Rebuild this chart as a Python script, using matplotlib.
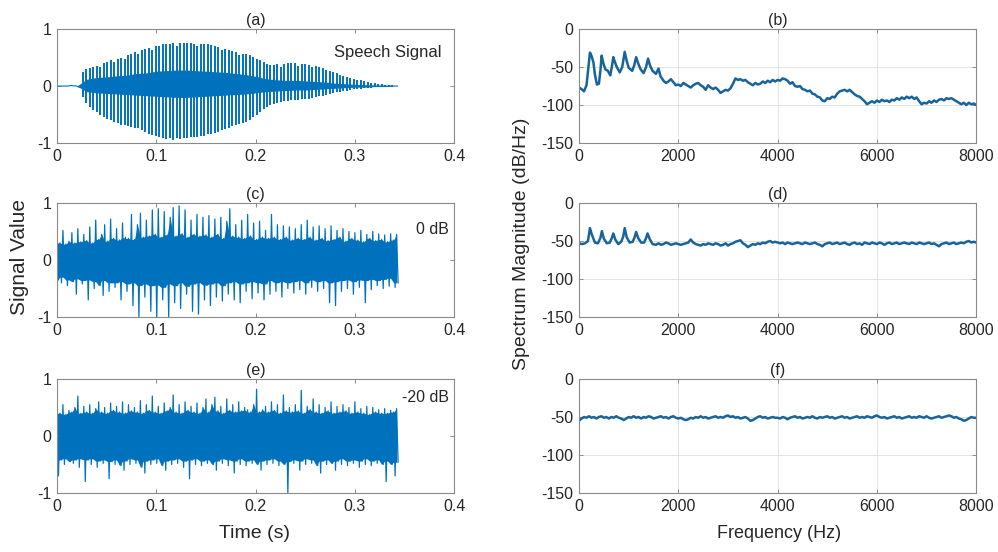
#!/usr/bin/env python3
"""Speech signal, noisy versions (0 dB / -20 dB) and their spectra, 3x2 panels."""
import numpy as np
import matplotlib
matplotlib.use("Agg")
import matplotlib.pyplot as plt

plt.rcParams["font.family"] = ["Liberation Sans", "DejaVu Sans"]
plt.rcParams["axes.unicode_minus"] = False

WAVE = "#0072BD"
SPEC = "#17649c"
INK = "#262626"
BOX = "#8a8a8a"

# ---- (a) clean speech: one stroke per pitch period (peak up / peak down)
A_START, A_STEP = 0.026, 0.0035
A_UP = [0.25, 0.30, 0.31, 0.33, 0.36, 0.34, 0.41, 0.43, 0.45, 0.42,
        0.48, 0.50, 0.47, 0.55, 0.57, 0.59, 0.57, 0.63, 0.65, 0.67,
        0.64, 0.70, 0.71, 0.73, 0.74, 0.74, 0.75, 0.71, 0.75, 0.76,
        0.75, 0.75, 0.74, 0.70, 0.74, 0.74, 0.73, 0.72, 0.70, 0.68,
        0.63, 0.65, 0.63, 0.62, 0.60, 0.55, 0.57, 0.56, 0.54, 0.51,
        0.48, 0.45, 0.42, 0.39, 0.37, 0.37, 0.38, 0.34, 0.39, 0.40,
        0.40, 0.40, 0.36, 0.39, 0.38, 0.37, 0.33, 0.35, 0.33, 0.31,
        0.28, 0.26, 0.24, 0.22, 0.20, 0.18, 0.16, 0.14, 0.13, 0.11,
        0.10, 0.08, 0.07, 0.06, 0.05, 0.04, 0.03, 0.02, 0.02, 0.01]
A_DN = [-0.20, -0.30, -0.36, -0.42, -0.46, -0.50, -0.55, -0.58, -0.60, -0.63,
        -0.65, -0.68, -0.69, -0.71, -0.72, -0.73, -0.74, -0.77, -0.81, -0.84,
        -0.86, -0.88, -0.90, -0.92, -0.93, -0.92, -0.94, -0.92, -0.93, -0.92,
        -0.91, -0.90, -0.90, -0.89, -0.88, -0.87, -0.85, -0.84, -0.82, -0.80,
        -0.78, -0.75, -0.73, -0.71, -0.69, -0.67, -0.65, -0.63, -0.60, -0.55,
        -0.50, -0.45, -0.41, -0.37, -0.33, -0.31, -0.29, -0.28, -0.27, -0.26,
        -0.25, -0.24, -0.24, -0.23, -0.23, -0.22, -0.21, -0.20, -0.18, -0.17,
        -0.15, -0.14, -0.12, -0.11, -0.10, -0.09, -0.08, -0.07, -0.06, -0.05,
        -0.05, -0.04, -0.03, -0.03, -0.02, -0.02, -0.02, -0.01, -0.01, -0.01]
# dense core of the voiced part, every 10 ms from 0.02 s
CORE_T = [0.02, 0.03, 0.04, 0.05, 0.06, 0.07, 0.08, 0.09, 0.10, 0.11, 0.12,
          0.13, 0.14, 0.15, 0.16, 0.17, 0.18, 0.19, 0.20, 0.21, 0.22, 0.23,
          0.24, 0.25, 0.26, 0.27, 0.28, 0.29, 0.30, 0.31, 0.32, 0.33, 0.34]
CORE_UP = [0.0, 0.12, 0.15, 0.16, 0.18, 0.19, 0.22, 0.23, 0.26, 0.27, 0.28,
           0.28, 0.27, 0.26, 0.25, 0.24, 0.22, 0.20, 0.17, 0.13, 0.11, 0.10,
           0.10, 0.09, 0.08, 0.07, 0.05, 0.04, 0.03, 0.02, 0.01, 0.01, 0.0]
CORE_DN = [0.0, -0.10, -0.12, -0.13, -0.14, -0.15, -0.16, -0.17, -0.18, -0.19, -0.20,
           -0.20, -0.19, -0.18, -0.17, -0.16, -0.15, -0.14, -0.12, -0.10, -0.09, -0.08,
           -0.07, -0.07, -0.06, -0.05, -0.04, -0.03, -0.02, -0.02, -0.01, -0.01, 0.0]
SIL_T = [0.0, 0.012, 0.013, 0.020, 0.022, 0.026, 0.338, 0.343]
SIL_V = [0.0, 0.0, 0.01, 0.0, -0.02, 0.0, 0.0, 0.0]

# ---- noisy signals: positive / negative excursions every 3 ms
N_STEP = 0.003
C_UP = [0.38, 0.30, 0.52, 0.28, 0.33, 0.48, 0.30, 0.55, 0.32, 0.45,
        0.34, 0.58, 0.30, 0.70, 0.36, 0.45, 0.62, 0.33, 0.72, 0.38,
        0.55, 0.35, 0.65, 0.40, 0.38, 0.80, 0.36, 0.62, 0.82, 0.40,
        0.70, 0.42, 0.88, 0.45, 0.90, 0.40, 0.85, 0.44, 0.75, 0.92,
        0.42, 0.95, 0.46, 0.88, 0.40, 0.70, 0.45, 0.80, 0.42, 0.75,
        0.44, 0.78, 0.40, 0.72, 0.45, 0.75, 0.38, 0.68, 0.90, 0.42,
        0.62, 0.40, 0.70, 0.38, 0.80, 0.42, 0.65, 0.36, 0.68, 0.40,
        0.52, 0.38, 0.80, 0.40, 0.62, 0.36, 0.60, 0.40, 0.58, 0.35,
        0.55, 0.38, 0.62, 0.36, 0.70, 0.40, 0.58, 0.35, 0.60, 0.38,
        0.55, 0.34, 0.60, 0.36, 0.52, 0.40, 0.55, 0.33, 0.50, 0.38,
        0.48, 0.35, 0.52, 0.32, 0.45, 0.38, 0.50, 0.34, 0.46, 0.36,
        0.44, 0.32, 0.46, 0.35, 0.45]
C_DN = [-0.35, -0.40, -0.30, -0.45, -0.35, -0.38, -0.60, -0.33, -0.42, -0.36,
        -0.70, -0.35, -0.50, -0.38, -0.45, -0.62, -0.36, -0.55, -0.40, -0.48,
        -0.40, -0.70, -0.38, -0.55, -0.42, -0.80, -0.40, -1.00, -0.45, -0.65,
        -0.42, -0.90, -0.45, -1.00, -0.44, -0.70, -0.48, -1.00, -0.42, -0.75,
        -0.45, -0.85, -0.40, -0.60, -0.46, -0.90, -0.42, -0.95, -0.40, -0.70,
        -0.44, -0.80, -0.42, -0.65, -0.40, -0.72, -0.45, -0.60, -0.40, -0.70,
        -0.38, -0.75, -0.42, -0.55, -0.40, -0.68, -0.38, -0.58, -0.40, -0.70,
        -0.42, -0.60, -0.36, -0.55, -0.40, -0.65, -0.38, -0.50, -0.40, -0.58,
        -0.38, -0.52, -0.36, -0.60, -0.40, -0.48, -0.35, -0.55, -0.38, -0.50,
        -0.36, -0.75, -0.40, -0.80, -0.38, -0.55, -0.36, -0.50, -0.35, -0.60,
        -0.38, -0.48, -0.35, -0.75, -0.36, -0.52, -0.34, -0.45, -0.36, -0.50,
        -0.34, -0.46, -0.32, -0.48, -0.40]
E_UP = [0.48, 0.40, 0.55, 0.38, 0.45, 0.42, 0.50, 0.70, 0.40, 0.52,
        0.42, 0.55, 0.40, 0.48, 0.60, 0.42, 0.50, 0.40, 0.58, 0.45,
        0.52, 0.42, 0.60, 0.40, 0.55, 0.44, 0.50, 0.42, 0.62, 0.40,
        0.55, 0.45, 0.70, 0.42, 0.52, 0.40, 0.58, 0.44, 0.50, 0.72,
        0.42, 0.55, 0.40, 0.60, 0.45, 0.52, 0.42, 0.58, 0.40, 0.50,
        0.65, 0.42, 0.55, 0.68, 0.44, 0.52, 0.40, 0.65, 0.45, 0.55,
        0.42, 0.60, 0.44, 0.50, 0.46, 0.42, 0.55, 0.82, 0.42, 0.46,
        0.52, 0.42, 0.60, 0.45, 0.55, 0.40, 0.72, 0.44, 0.50, 0.42,
        0.55, 0.44, 0.80, 0.40, 0.52, 0.46, 0.65, 0.42, 0.55, 0.40,
        0.50, 0.44, 0.60, 0.40, 0.52, 0.42, 0.55, 0.44, 0.50, 0.40,
        0.60, 0.42, 0.48, 0.40, 0.52, 0.38, 0.50, 0.42, 0.46, 0.40,
        0.48, 0.40, 0.45, 0.42, 0.48]
E_DN = [-0.70, -0.42, -0.50, -0.40, -0.45, -0.48, -0.42, -0.55, -0.40, -0.80,
        -0.42, -0.50, -0.40, -0.55, -0.44, -0.48, -0.42, -0.75, -0.45, -0.50,
        -0.42, -0.52, -0.60, -0.44, -0.50, -0.40, -0.48, -0.42, -0.55, -0.65,
        -0.44, -0.50, -0.42, -0.48, -0.40, -0.52, -0.60, -0.44, -0.50, -0.42,
        -0.48, -0.40, -0.55, -0.44, -0.75, -0.42, -0.50, -0.40, -0.52, -0.44,
        -0.48, -0.42, -0.50, -0.60, -0.44, -0.48, -0.40, -0.52, -0.42, -0.65,
        -0.44, -0.50, -0.40, -0.52, -0.44, -0.48, -0.42, -0.50, -0.60, -0.44,
        -0.50, -0.42, -0.48, -0.40, -0.52, -0.44, -0.50, -1.00, -0.45, -0.48,
        -0.42, -0.60, -0.44, -0.50, -0.40, -0.48, -0.42, -0.52, -0.65, -0.44,
        -0.50, -0.42, -0.48, -0.60, -0.44, -0.50, -0.40, -0.52, -0.44, -0.48,
        -0.42, -0.55, -0.44, -0.50, -0.40, -0.52, -0.44, -0.48, -0.42, -0.50,
        -0.80, -0.44, -0.50, -0.70, -0.46]

# ---- spectra (dB/Hz): harmonic region read point by point, rest every 50 Hz
F_BH = [0, 50, 100, 150, 190, 220, 255, 290, 320, 360, 400, 430, 455, 490, 530,
        580, 630, 660, 690, 720, 760, 820, 870, 920, 960, 1000, 1070, 1110, 1150,
        1190, 1240, 1300, 1350, 1390, 1430, 1480, 1550, 1600, 1640]
S_BH = [-77, -79, -82, -74, -50, -31, -36, -44, -60, -73, -72, -55, -35, -45, -53,
        -55, -61, -50, -37, -43, -50, -57, -50, -30, -42, -51, -55, -48, -37,
        -45, -53, -58, -50, -39, -48, -55, -59, -52, -62]
B_TAIL_START = 1700
S_BT = [-68, -71, -69, -66, -70, -74, -73, -75, -71, -73, -75, -77, -74, -72, -71, -74, -76, -80, -74, -77,
        -79, -77, -80, -84, -82, -80, -81, -78, -72, -65, -67, -66, -68, -67, -70, -72, -74, -71, -73, -72,
        -69, -71, -68, -70, -67, -69, -67, -68, -65, -66, -68, -72, -70, -75, -76, -75, -79, -80, -82, -81,
        -85, -86, -89, -90, -94, -95, -91, -92, -89, -90, -85, -82, -81, -80, -82, -80, -83, -86, -88, -89,
        -92, -95, -99, -97, -95, -97, -94, -96, -93, -95, -94, -96, -93, -94, -91, -93, -90, -92, -89, -91,
        -89, -92, -90, -95, -99, -97, -98, -95, -97, -94, -96, -93, -92, -94, -91, -92, -91, -93, -95, -97,
        -99, -97, -100, -97, -99, -98, -100]

F_DH = [0, 60, 120, 180, 220, 260, 320, 380, 430, 460, 500, 560, 620, 660, 690,
        730, 790, 850, 890, 920, 960, 1020, 1080, 1120, 1150, 1190, 1250, 1310,
        1350, 1380, 1420, 1480, 1550, 1600]
S_DH = [-53, -54, -53, -50, -33, -42, -52, -53, -46, -37, -47, -53, -52, -46, -40,
        -48, -54, -51, -44, -33, -45, -52, -51, -45, -38, -46, -52, -52,
        -46, -40, -47, -54, -55, -53]
D_TAIL_START = 1650
S_DT = [-55, -54, -52, -53, -55, -54, -53, -54,
        -55, -54, -53, -52, -48, -52, -54, -55, -56, -54, -55, -53, -54, -55, -53, -54, -56, -55, -53, -56,
        -54, -53, -51, -50, -49, -53, -55, -58, -56, -54, -55, -53, -54, -52, -53, -51, -50, -52, -51, -52,
        -53, -52, -54, -52, -53, -54, -53, -52, -53, -54, -52, -53, -54, -53, -52, -54, -55, -57, -54, -53,
        -52, -54, -53, -52, -54, -53, -52, -54, -55, -53, -52, -54, -53, -55, -52, -53, -54, -52, -53, -54,
        -52, -53, -55, -53, -52, -54, -53, -52, -54, -53, -52, -53, -54, -52, -53, -54, -52, -53, -54, -53,
        -52, -54, -53, -55, -57, -54, -53, -52, -54, -53, -52, -54, -53, -52, -53, -51, -50, -52, -51, -52]

F_STEP = 50
S_F = [-55, -52, -50, -51, -49, -51, -50, -52, -50, -49, -51, -50, -52, -50, -51, -49, -51, -52, -54, -52,
       -50, -51, -49, -51, -50, -52, -50, -51, -49, -50, -52, -51, -50, -49, -51, -50, -52, -50, -49, -51,
       -52, -51, -53, -54, -53, -51, -52, -50, -51, -49, -51, -50, -52, -51, -50, -49, -51, -50, -51, -49,
       -48, -50, -49, -51, -50, -52, -51, -50, -52, -55, -54, -52, -50, -49, -51, -50, -52, -51, -50, -51,
       -51, -52, -50, -51, -53, -51, -50, -49, -51, -50, -52, -51, -50, -51, -49, -51, -52, -50, -51, -50,
       -49, -51, -50, -52, -51, -50, -49, -51, -50, -52, -51, -50, -49, -51, -50, -51, -49, -50, -51, -49,
       -48, -50, -51, -50, -52, -51, -50, -49, -51, -50, -52, -51, -50, -49, -51, -50, -51, -49, -50, -51,
       -49, -51, -52, -51, -50, -49, -51, -50, -49, -48, -49, -51, -50, -52, -53, -55, -54, -52, -50, -51,
       -51]

TIME_TICKS = [0, 0.1, 0.2, 0.3, 0.4]
TIME_LABELS = ["0", "0.1", "0.2", "0.3", "0.4"]
FREQ_TICKS = [0, 2000, 4000, 6000, 8000]
DB_TICKS = [-150, -100, -50, 0]
FS = 11.5


def style(ax, grid):
    for s in ax.spines.values():
        s.set_color(BOX)
        s.set_linewidth(0.8)
    ax.tick_params(direction="in", length=3, width=0.7, color=BOX,
                   top=True, right=True, labelsize=FS, labelcolor=INK, pad=4)
    if grid:
        ax.grid(True, color="#dedede", lw=0.6)
        ax.set_axisbelow(True)


def wave_axes(ax, title):
    ax.set_xlim(0, 0.4)
    ax.set_ylim(-1, 1)
    ax.set_xticks(TIME_TICKS)
    ax.set_xticklabels(TIME_LABELS)
    ax.set_yticks([-1, 0, 1])
    ax.set_yticklabels(["-1", "0", "1"])
    ax.set_title(title, fontsize=FS, color=INK, pad=3)
    style(ax, grid=False)


def spec_axes(ax, title):
    ax.set_xlim(0, 8000)
    ax.set_ylim(-150, 0)
    ax.set_xticks(FREQ_TICKS)
    ax.set_yticks(DB_TICKS)
    ax.set_title(title, fontsize=FS, color=INK, pad=3)
    style(ax, grid=True)


def noise(ax, up, dn):
    up, dn = np.asarray(up), np.asarray(dn)
    t = np.arange(len(up)) * N_STEP
    # solid band: smaller of two neighbouring excursions
    core_up = np.minimum(up, np.r_[up[1:], up[-1]])
    core_dn = np.maximum(dn, np.r_[dn[1:], dn[-1]])
    ax.fill_between(t, core_dn, core_up, color=WAVE, lw=0)
    tt = np.empty(2 * len(up))
    yy = np.empty(2 * len(up))
    tt[0::2], tt[1::2] = t, t + N_STEP / 2
    yy[0::2], yy[1::2] = up, dn
    ax.plot(tt, yy, color=WAVE, lw=0.9)


def main():
    fig = plt.figure(figsize=(9.98, 5.52), dpi=100)
    lx, rx, w = 0.0571, 0.5802, 0.398
    rows = [0.7409, 0.4257, 0.1069]
    h = 0.2065
    ax_a = fig.add_axes([lx, rows[0], w, h])
    ax_b = fig.add_axes([rx, rows[0], w, h])
    ax_c = fig.add_axes([lx, rows[1], w, h])
    ax_d = fig.add_axes([rx, rows[1], w, h])
    ax_e = fig.add_axes([lx, rows[2], w, h])
    ax_f = fig.add_axes([rx, rows[2], w, h])

    # (a) clean speech
    ta = A_START + np.arange(len(A_UP)) * A_STEP
    ax_a.plot(SIL_T, SIL_V, color=WAVE, lw=0.8)
    ax_a.fill_between(CORE_T, CORE_DN, CORE_UP, color=WAVE, lw=0)
    ax_a.vlines(ta, A_DN, A_UP, color=WAVE, lw=1.4)
    ax_a.text(0.387, 0.58, "Speech Signal", ha="right", va="center",
              fontsize=FS + 0.5, color=INK)
    wave_axes(ax_a, "(a)")

    # (c) 0 dB, (e) -20 dB
    noise(ax_c, C_UP, C_DN)
    ax_c.text(0.395, 0.53, "0 dB", ha="right", va="center", fontsize=FS, color=INK)
    wave_axes(ax_c, "(c)")
    noise(ax_e, E_UP, E_DN)
    ax_e.text(0.395, 0.68, "-20 dB", ha="right", va="center", fontsize=FS, color=INK)
    wave_axes(ax_e, "(e)")

    # spectra
    fb = np.r_[F_BH, B_TAIL_START + np.arange(len(S_BT)) * 50]
    ax_b.plot(fb, np.r_[S_BH, S_BT], color=SPEC, lw=1.8)
    spec_axes(ax_b, "(b)")
    fd = np.r_[F_DH, D_TAIL_START + np.arange(len(S_DT)) * 50]
    ax_d.plot(fd, np.r_[S_DH, S_DT], color=SPEC, lw=1.8)
    spec_axes(ax_d, "(d)")
    ax_f.plot(np.arange(len(S_F)) * F_STEP, S_F, color=SPEC, lw=1.8)
    spec_axes(ax_f, "(f)")

    fig.text(20 / 998, 1 - 257 / 552, "Signal Value", rotation=90,
             ha="center", va="center", fontsize=15, color=INK)
    fig.text(522 / 998, 1 - 244 / 552, "Spectrum Magnitude (dB/Hz)", rotation=90,
             ha="center", va="center", fontsize=14, color=INK)
    fig.text(255 / 998, 1 - 533 / 552, "Time (s)", ha="center", va="center",
             fontsize=14, color=INK)
    fig.text(779 / 998, 1 - 533 / 552, "Frequency (Hz)", ha="center", va="center",
             fontsize=13, color=INK)

    fig.savefig("out.png", dpi=100, facecolor="white")
    plt.close(fig)


if __name__ == "__main__":
    main()
